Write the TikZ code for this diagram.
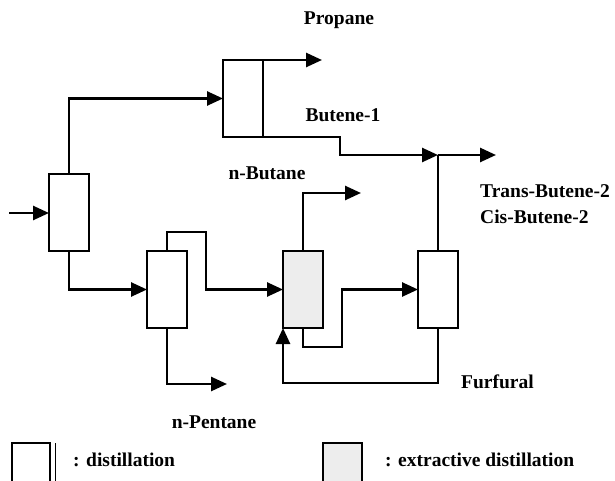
\documentclass[tikz,border=0pt]{standalone}
\usepackage{fontspec}
\setmainfont{Liberation Serif}
\usetikzlibrary{arrows.meta}
\begin{document}
\begin{tikzpicture}[x=1pt,y=-1pt,
  lbl/.style={font=\bfseries\fontsize{19.5}{22}\selectfont, inner sep=0pt},
  column/.style={draw, line width=1.3pt, inner sep=0pt, outer sep=0pt,
    minimum width=40pt, minimum height=77pt, anchor=north west},
  extractive/.style={column, fill=black!7, line width=1.7pt},
  stream/.style={line width=2.6pt},
  flow/.style={stream, -{Triangle[length=16pt,width=14pt]}},
]
\useasboundingbox (0,0) rectangle (615,481);

% columns
\node[column] (c1) at (49,174) {};
\node[column] (c3) at (147,251) {};
\node[extractive] (c4) at (283,251) {};
\node[column] (c5) at (418,251) {};
% first splitter (open on the right, divided)
\node[column] (c2) at (223,60) {};
\draw[line width=1.3pt] (c2.north east) -- (c2.south east);

% feed
\coordinate (feed) at (9,213);
\draw[flow] (feed) -- (feed -| c1.west);

% column 1
\draw[flow] (c1.north) |- (c2.west);
\draw[flow] (c1.south) |- (c3.west);

% column 2: propane and butene-1
\coordinate (prop) at (322,60);
\draw[flow] (c2.north) -- (prop);
\coordinate (bstep) at (340,137);
\coordinate (j) at (438,155);
\draw[flow] (c2.south) -- (bstep) |- (j);
\coordinate (bout) at (496,155);
\draw[flow] (j) -- (bout);

% column 3
\coordinate (c3t) at (206,232);
\draw[flow] (c3.north) |- (c3t) |- (c4.west);
\coordinate (pent) at (227,384);
\draw[flow] (c3.south) |- (pent);

% extractive column
\coordinate (nbut) at (361,193);
\draw[flow] (c4.north) |- (nbut);
\coordinate (c4b) at (342,347);
\draw[flow] (c4.south) |- (c4b) |- (c5.west);

% solvent recovery column
\draw[stream] (c5.north) -- (j);
\coordinate (furf) at (283,383);
\draw[flow] (c5.south) |- (furf) -- (c4.south west);

% stream labels
\node[lbl] (lprop) at (339,20) {Propane};
\node[lbl] (lbut1) at (343,115) {Butene-1};
\node[lbl] (lnbut) at (267,173) {n-Butane};
\node[lbl, anchor=west] (ltrans) at (480,191) {Trans-Butene-2};
\node[lbl, anchor=west] (lcis) at (480,217) {Cis-Butene-2};
\node[lbl, anchor=west] (lfurf) at (461,382) {Furfural};
\node[lbl] (lpent) at (214,422) {n-Pentane};

% legend
\draw[line width=1.3pt] (12,484) -- (12,443) -- (50,443) -- (50,484);
\draw[line width=0.6pt] (55,443) -- (55,484);
\node[lbl, anchor=west] (ld) at (73,460) {: distillation};
\fill[black!7] (323,443) rectangle (362,484);
\draw[line width=1.7pt] (323,484) -- (323,443) -- (362,443) -- (362,484);
\node[lbl, anchor=west] (le) at (385,460) {: extractive distillation};
\end{tikzpicture}
\end{document}
